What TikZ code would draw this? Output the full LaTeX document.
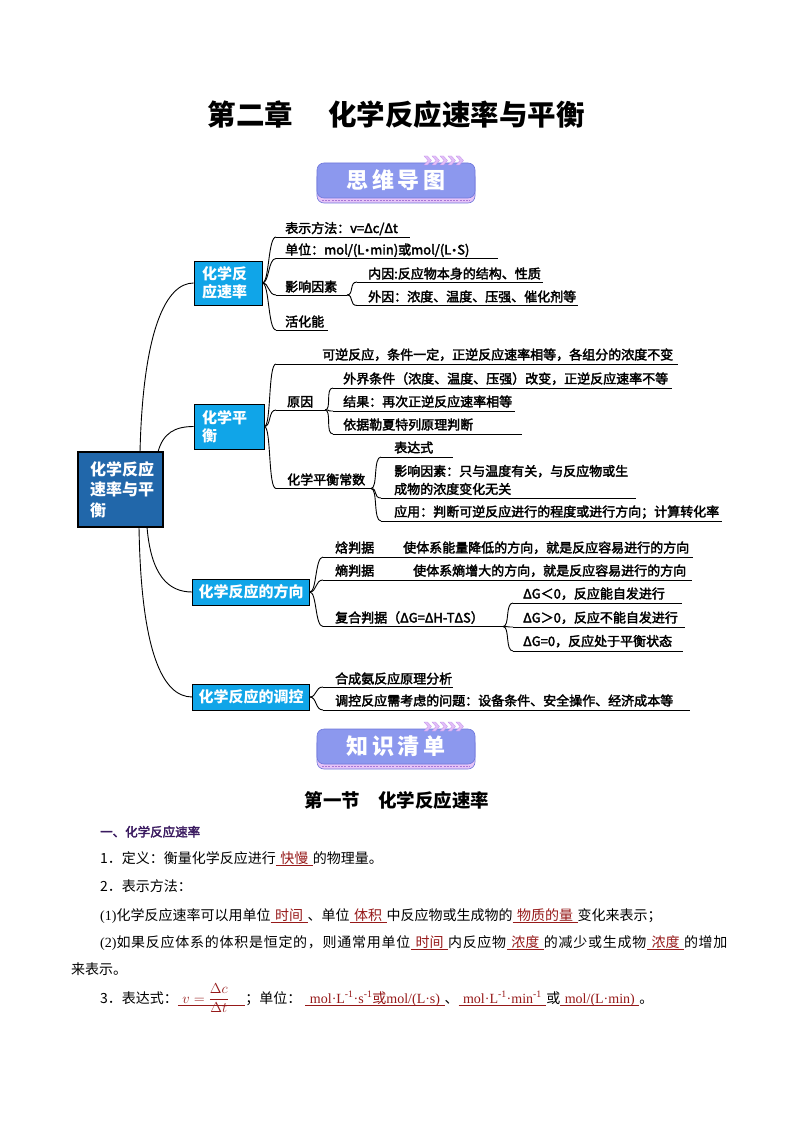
\documentclass[tikz,border=0pt]{standalone}
\usepackage{fontspec}
\setmainfont{Noto Sans CJK SC}
\newfontfamily\tnr{Liberation Serif}
\newfontfamily\leaffont[FakeBold=2.5]{Noto Sans CJK SC}
\newfontfamily\dejavu{DejaVu Sans}
\usetikzlibrary{calc}
\definecolor{rootblue}{RGB}{33,103,170}
\definecolor{boxblue}{RGB}{16,165,232}
\definecolor{bannerfill}{RGB}{140,152,238}
\definecolor{bannerdraw}{RGB}{112,120,220}
\definecolor{stripfill}{RGB}{230,196,247}
\definecolor{stripdash}{RGB}{168,118,214}
\definecolor{chevfill}{RGB}{226,190,248}
\definecolor{chevdraw}{RGB}{196,150,236}
\definecolor{ansred}{RGB}{150,25,25}
\definecolor{headpurple}{RGB}{58,26,96}
\tikzset{
  conn/.style={line width=0.9pt,black},
  uline/.style={line width=0.9pt,black},
  leaf/.style={anchor=base west,inner sep=0pt,font=\leaffont\fontsize{13}{18}\selectfont},
  rootbox/.style={draw=black,line width=1.4pt,fill=rootblue,text=white,font=\fontsize{16}{20.5}\selectfont\bfseries,align=left,text width=61pt,inner xsep=12pt,inner ysep=0pt,minimum height=75pt},
  topicbox/.style={draw=black,line width=0.7pt,fill=boxblue,text=white,font=\fontsize{15}{18.5}\selectfont\bfseries,inner ysep=0pt},
  bannerbox/.style={draw=bannerdraw,line width=0.6pt,fill=bannerfill,rounded corners=7pt,minimum width=158pt,minimum height=35pt,text=white,font=\fontsize{22}{24}\selectfont\bfseries,inner sep=0pt},
  chevron/.style={fill=chevfill,draw=chevdraw,line width=0.3pt},
  body/.style={anchor=base west,inner sep=0pt,font=\fontsize{14}{17}\selectfont},
}
\newcommand\ans[1]{{\color{ansred}\setbox0=\hbox{\hspace{4.5pt}#1\hspace{4.5pt}}\rlap{\rule[-2.6pt]{\wd0}{0.6pt}}\box0}}
\def\spr#1{\ifx#1\relax\else#1\hskip0pt plus1pt\expandafter\spr\fi}
\newcommand\ulseg[4]{\coordinate (#1a) at (#2,#4);\coordinate (#1b) at (#3,#4);\draw[uline] (#1a) -- (#1b);}
\newcommand\fan[2]{\draw[conn] (#1) .. controls +(7,0) and +(-8,0) .. (#2);}
\newcommand\bul{{\dejavu\fontsize{10}{10}\selectfont•}}
\newcommand\mybanner[3]{%
  \begin{scope}[shift={(0,#1)}]
    \draw[draw=bannerdraw,line width=0.6pt,fill=stripfill,rounded corners=7pt] (317,170) rectangle (475,203);
    \draw[stripdash,line width=1.2pt,dash pattern=on 2pt off 1.2pt] (322,200.3) -- (470,200.3);
    \node[bannerbox] (#2) at (396,180.5) {#3};
    \foreach \i in {0,...,4}{
      \filldraw[chevron] (424+8*\i,156) -- (427.5+8*\i,156) -- (431.5+8*\i,160.5) -- (427.5+8*\i,165) -- (424+8*\i,165) -- (428+8*\i,160.5) -- cycle;
    }
  \end{scope}}
\begin{document}
\begin{tikzpicture}[x=1pt,y=-1pt]
\useasboundingbox (0,0) rectangle (794,1123);
\fill[white] (0,0) rectangle (794,1123);

% title
\node[inner sep=0pt,font=\fontsize{28.5}{30}\selectfont\bfseries] (title) at (396,115) {第二章\hspace{35pt}化学反应速率与平衡};

% banners
\mybanner{0}{ban1}{思\hspace{3.5pt}维\hspace{3.5pt}导\hspace{3.5pt}图}
\mybanner{566}{ban2}{知\hspace{3.5pt}识\hspace{3.5pt}清\hspace{3.5pt}单}

% root and topics
\node[rootbox] (root) at (120.5,489.5) {化学反应\\速率与平\\衡};
\node[topicbox,align=left,text width=52pt,inner xsep=8pt,minimum height=44pt] (t1) at (228,283) {化学反\\应速率};
\node[topicbox,align=left,text width=54pt,inner xsep=8pt,minimum height=45pt] (t2) at (229,426.5) {化学平\\衡};
\node[topicbox,minimum width=117pt,minimum height=26pt] (t3) at (251,592) {化学反应的方向};
\node[topicbox,minimum width=117pt,minimum height=26pt] (t4) at (251,697) {化学反应的调控};

\coordinate (r1) at (140,452);
\coordinate (r2) at (158,452);
\coordinate (r3) at (147,527);
\coordinate (r4) at (139,527);
\draw[conn] (r1) .. controls (143,330) and (166,283) .. (t1.west);
\draw[conn] (r2) .. controls (163,433) and (175,426.5) .. (t2.west);
\draw[conn] (r3) .. controls (151,575) and (168,592) .. (t3.west);
\draw[conn] (r4) .. controls (141,650) and (162,697) .. (t4.west);

% branch 1
\ulseg{u11}{276}{410}{237}
\ulseg{u12}{276}{498}{258.5}
\ulseg{u13}{276}{347}{295}
\ulseg{u131}{357}{543}{282}
\ulseg{u132}{357}{578}{305.5}
\ulseg{u14}{276}{328}{330}
\node[leaf] (n11) at (285,233) {表示方法：v=Δc/Δt};
\node[leaf] (n12) at (285,254.5) {单位：mol/(L\bul min)或mol/(L\bul S)};
\node[leaf] (n13) at (285,291.5) {影响因素};
\node[leaf] (n131) at (368,278.5) {内因:反应物本身的结构、性质};
\node[leaf] (n132) at (368,301.5) {外因：浓度、温度、压强、催化剂等};
\node[leaf] (n14) at (285,326.5) {活化能};
\fan{t1.east}{u11a}
\fan{t1.east}{u12a}
\fan{t1.east}{u13a}
\fan{t1.east}{u14a}
\fan{u13b}{u131a}
\fan{u13b}{u132a}

% branch 2
\ulseg{u21}{276}{678}{364}
\ulseg{u22}{276}{325}{410}
\ulseg{u221}{333}{672}{388}
\ulseg{u222}{333}{515}{411}
\ulseg{u223}{333}{522}{434}
\ulseg{u23}{276}{371}{488.5}
\ulseg{u231}{381}{453}{457}
\ulseg{u232}{381}{636}{498}
\ulseg{u233}{381}{722}{521}
\node[leaf] (n21) at (322,359.5) {可逆反应，条件一定，正逆反应速率相等，各组分的浓度不变};
\node[leaf] (n22) at (287,406.5) {原因};
\node[leaf] (n221) at (343,383.5) {外界条件（浓度、温度、压强）改变，正逆反应速率不等};
\node[leaf] (n222) at (343,406.5) {结果：再次正逆反应速率相等};
\node[leaf] (n223) at (343,429.5) {依据勒夏特列原理判断};
\node[leaf] (n23) at (287,484.5) {化学平衡常数};
\node[leaf] (n231) at (394,452.5) {表达式};
\node[leaf,anchor=west,align=left] (n232) at (394,480) {影响因素：只与温度有关，与反应物或生\\成物的浓度变化无关};
\node[leaf] (n233) at (394,516.5) {应用：判断可逆反应进行的程度或进行方向；计算转化率};
\fan{t2.east}{u21a}
\fan{t2.east}{u22a}
\fan{t2.east}{u23a}
\fan{u22b}{u221a}
\fan{u22b}{u222a}
\fan{u22b}{u223a}
\fan{u23b}{u231a}
\fan{u23b}{u232a}
\fan{u23b}{u233a}

% branch 3
\ulseg{u31}{323}{693}{557}
\ulseg{u32}{323}{692}{580}
\ulseg{u33}{323}{503}{626.5}
\ulseg{u331}{513}{682}{603}
\ulseg{u332}{513}{685}{627}
\ulseg{u333}{513}{683}{651}
\node[leaf] (n31) at (335,552.5) {焓判据};
\node[leaf] (n31d) at (403,552.5) {使体系能量降低的方向，就是反应容易进行的方向};
\node[leaf] (n32) at (335,575.5) {熵判据};
\node[leaf] (n32d) at (413,575.5) {使体系熵增大的方向，就是反应容易进行的方向};
\node[leaf] (n33) at (335,622.5) {复合判据（ΔG=ΔH-TΔS）};
\node[leaf] (n331) at (523,598.5) {ΔG＜0，反应能自发进行};
\node[leaf] (n332) at (523,622.5) {ΔG＞0，反应不能自发进行};
\node[leaf] (n333) at (523,646) {ΔG=0，反应处于平衡状态};
\fan{t3.east}{u31a}
\fan{t3.east}{u32a}
\fan{t3.east}{u33a}
\fan{u33b}{u331a}
\fan{u33b}{u332a}
\fan{u33b}{u333a}

% branch 4
\ulseg{u41}{323}{453}{687}
\ulseg{u42}{323}{690}{710}
\node[leaf] (n41) at (335,683.5) {合成氨反应原理分析};
\node[leaf] (n42) at (335,705.5) {调控反应需考虑的问题：设备条件、安全操作、经济成本等};
\fan{t4.east}{u41a}
\fan{t4.east}{u42a}

% section
\node[inner sep=0pt,font=\fontsize{18.5}{20}\selectfont\bfseries] (sec) at (397,800) {第一节\hspace{18pt}化学反应速率};
\node[body,font=\leaffont\fontsize{12.5}{15}\selectfont,text=headpurple] (head) at (100,836.5) {一、化学反应速率};
\node[body] (p1) at (100,863) {1．定义：衡量化学反应进行\ans{快慢}的物理量。};
\node[body] (p2) at (100,891.5) {2．表示方法：};
\node[body] (p3) at (100,920) {{\tnr(1)}化学反应速率可以用单位\ans{时间}、单位\ans{体积}中反应物或生成物的\ans{物质的量}变化来表示；};
\node[body] (p4) at (100,947) {\makebox[628pt][s]{{\tnr(2)}\spr 如果反应体系的体积是恒定的，则通常用单位\relax\ans{时间}\spr 内反应物\relax\ans{浓度}\spr 的减少或生成物\relax\ans{浓度}\spr 的增加\relax}};
\node[body] (p5) at (71,974) {来表示。};
\node[body] (p6) at (100,1003) {3．表达式：\ans{{\fontsize{15}{17}\selectfont$v=\displaystyle\frac{\Delta c}{\Delta t}$}\hspace{12pt}}；单位：\hspace{4pt}\ans{{\tnr mol·L\textsuperscript{-1}·s\textsuperscript{-1}}或{\tnr mol/(L·s)}}、\ans{{\tnr mol·L\textsuperscript{-1}·min\textsuperscript{-1}}}或\ans{\tnr mol/(L·min)}。};
\end{tikzpicture}
\end{document}
